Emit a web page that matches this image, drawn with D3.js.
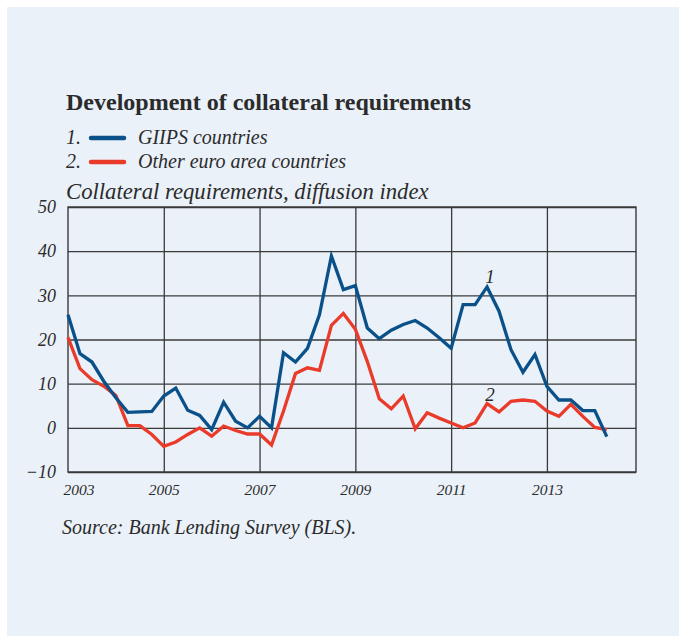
<!DOCTYPE html>
<html>
<head>
<meta charset="utf-8">
<script src="https://d3js.org/d3.v7.min.js"></script>
<style>
  html, body { margin: 0; padding: 0; background: #fff; }
  svg text { font-family: "Liberation Serif", "DejaVu Serif", serif; fill: #2b2b2b; }
</style>
</head>
<body>
<div id="chart"></div>
<script>
// quarterly data, 2003Q1 .. 2014Q2
let quarters = ["2003Q1","2003Q2","2003Q3","2003Q4","2004Q1","2004Q2","2004Q3","2004Q4",
  "2005Q1","2005Q2","2005Q3","2005Q4","2006Q1","2006Q2","2006Q3","2006Q4",
  "2007Q1","2007Q2","2007Q3","2007Q4","2008Q1","2008Q2","2008Q3","2008Q4",
  "2009Q1","2009Q2","2009Q3","2009Q4","2010Q1","2010Q2","2010Q3","2010Q4",
  "2011Q1","2011Q2","2011Q3","2011Q4","2012Q1","2012Q2","2012Q3","2012Q4",
  "2013Q1","2013Q2","2013Q3","2013Q4","2014Q1","2014Q2"];
let giips = [25.6,16.8,14.9,10.5,6.8,3.5,3.6,3.7,
  7.2,9.0,4.0,2.8,-0.4,5.8,1.5,0.0,
  2.6,0.0,17.0,14.9,18.0,25.6,38.9,31.3,
  32.2,22.6,20.2,22.1,23.4,24.3,22.6,20.4,
  18.0,27.9,27.9,31.9,26.4,17.7,12.6,16.6,
  9.4,6.3,6.3,3.9,3.9,-2.0];
let other = [20.5,13.4,10.9,9.4,7.3,0.5,0.5,-1.5,
  -4.2,-3.2,-1.5,0.0,-1.9,0.4,-0.6,-1.4,
  -1.4,-3.9,3.8,12.3,13.6,13.0,23.2,25.9,
  22.3,15.0,6.6,4.3,7.2,-0.2,3.4,2.2,
  1.1,0.0,1.1,5.5,3.6,6.0,6.3,6.0,
  3.8,2.6,5.3,2.6,0.1,-0.4];
let yTicks = [-10,0,10,20,30,40,50];
let yearLabels = [2003,2005,2007,2009,2011,2013];
let yearGrid = [2005,2007,2009,2011,2013];

let width = 679, height = 636;
let svg = d3.select("#chart").append("svg")
  .attr("width", width).attr("height", height);

svg.append("rect").attr("x", 7).attr("y", 7)
  .attr("width", width - 7).attr("height", height - 7)
  .attr("fill", "#eaf1f9");

function qToYear(q) {
  return +q.slice(0, 4) + (+q.slice(5) - 1) / 4;
}

let xScale = d3.scaleLinear().domain([2003, 2014.86]).range([68, 636]);
let yScale = d3.scaleLinear().domain([-10, 50]).range([472, 207]);

// horizontal grid
svg.append("g")
  .attr("transform", "translate(68,0)")
  .call(d3.axisLeft(yScale).tickValues(yTicks).tickSize(-(636 - 68)).tickFormat(""))
  .call(g => g.select(".domain").remove())
  .call(g => g.selectAll("line").attr("stroke", "#3a3a3a").attr("stroke-width", 1.3));

// vertical grid
svg.append("g")
  .attr("transform", "translate(0,472)")
  .call(d3.axisBottom(xScale).tickValues(yearGrid).tickSize(-(472 - 207)).tickFormat(""))
  .call(g => g.select(".domain").remove())
  .call(g => g.selectAll("line").attr("stroke", "#3a3a3a").attr("stroke-width", 1.3));

// frame
svg.append("rect")
  .attr("x", 68).attr("y", 207).attr("width", 636 - 68).attr("height", 472 - 207)
  .attr("fill", "none").attr("stroke", "#3a3a3a").attr("stroke-width", 1.4);

// y labels
svg.append("g")
  .attr("transform", "translate(68,0)")
  .call(d3.axisLeft(yScale).tickValues(yTicks).tickSize(0).tickPadding(12)
    .tickFormat(d => d < 0 ? "\u2212" + Math.abs(d) : d))
  .call(g => g.select(".domain").remove())
  .call(g => g.selectAll("text")
    .style("font-family", "'Liberation Serif', serif")
    .style("font-style", "italic").style("font-size", "18px").attr("fill", "#2b2b2b"));

// x labels
svg.append("g")
  .attr("transform", "translate(0,472)")
  .call(d3.axisBottom(xScale).tickValues(yearLabels).tickSize(0).tickPadding(12)
    .tickFormat(d3.format("d")))
  .call(g => g.select(".domain").remove())
  .call(g => g.selectAll("text")
    .style("font-family", "'Liberation Serif', serif")
    .style("font-style", "italic").style("font-size", "15.5px").attr("fill", "#2b2b2b")
    .attr("text-anchor", d => d === 2003 ? "start" : "middle")
    .attr("dx", d => d === 2003 ? -5 : 0));

let line = d3.line()
  .x((d, i) => xScale(qToYear(quarters[i])))
  .y(d => yScale(d));

svg.append("path").attr("d", line(other))
  .attr("fill", "none").attr("stroke", "#ea3b2a").attr("stroke-width", 3.3)
  .attr("stroke-linejoin", "miter");
svg.append("path").attr("d", line(giips))
  .attr("fill", "none").attr("stroke", "#0a5189").attr("stroke-width", 3.3)
  .attr("stroke-linejoin", "miter");

// series numbers
svg.append("text").attr("x", xScale(qToYear("2011Q4")) + 3).attr("y", 283)
  .attr("text-anchor", "middle").style("font-style", "italic").style("font-size", "19px").text("1");
svg.append("text").attr("x", xScale(qToYear("2011Q4")) + 3).attr("y", 401)
  .attr("text-anchor", "middle").style("font-style", "italic").style("font-size", "19px").text("2");

// title
svg.append("text").attr("x", 66).attr("y", 110)
  .style("font-weight", "bold").style("font-size", "24px").text("Development of collateral requirements");

// legend
let legend = [["1.", "GIIPS countries", "#0a5189"], ["2.", "Other euro area countries", "#ea3b2a"]];
legend.forEach((l, i) => {
  let y = 138 + i * 24;
  svg.append("text").attr("x", 66).attr("y", y + 6)
    .style("font-style", "italic").style("font-size", "20px").text(l[0]);
  svg.append("line").attr("x1", 91).attr("x2", 124).attr("y1", y).attr("y2", y)
    .attr("stroke", l[2]).attr("stroke-width", 4.5).attr("stroke-linecap", "round");
  svg.append("text").attr("x", 138).attr("y", y + 6)
    .style("font-style", "italic").style("font-size", "20px").text(l[1]);
});

// axis title
svg.append("text").attr("x", 66).attr("y", 199)
  .style("font-style", "italic").style("font-size", "22.7px").text("Collateral requirements, diffusion index");

// source
svg.append("text").attr("x", 62).attr("y", 534)
  .style("font-style", "italic").style("font-size", "20px").text("Source: Bank Lending Survey (BLS).");
</script>
</body>
</html>
